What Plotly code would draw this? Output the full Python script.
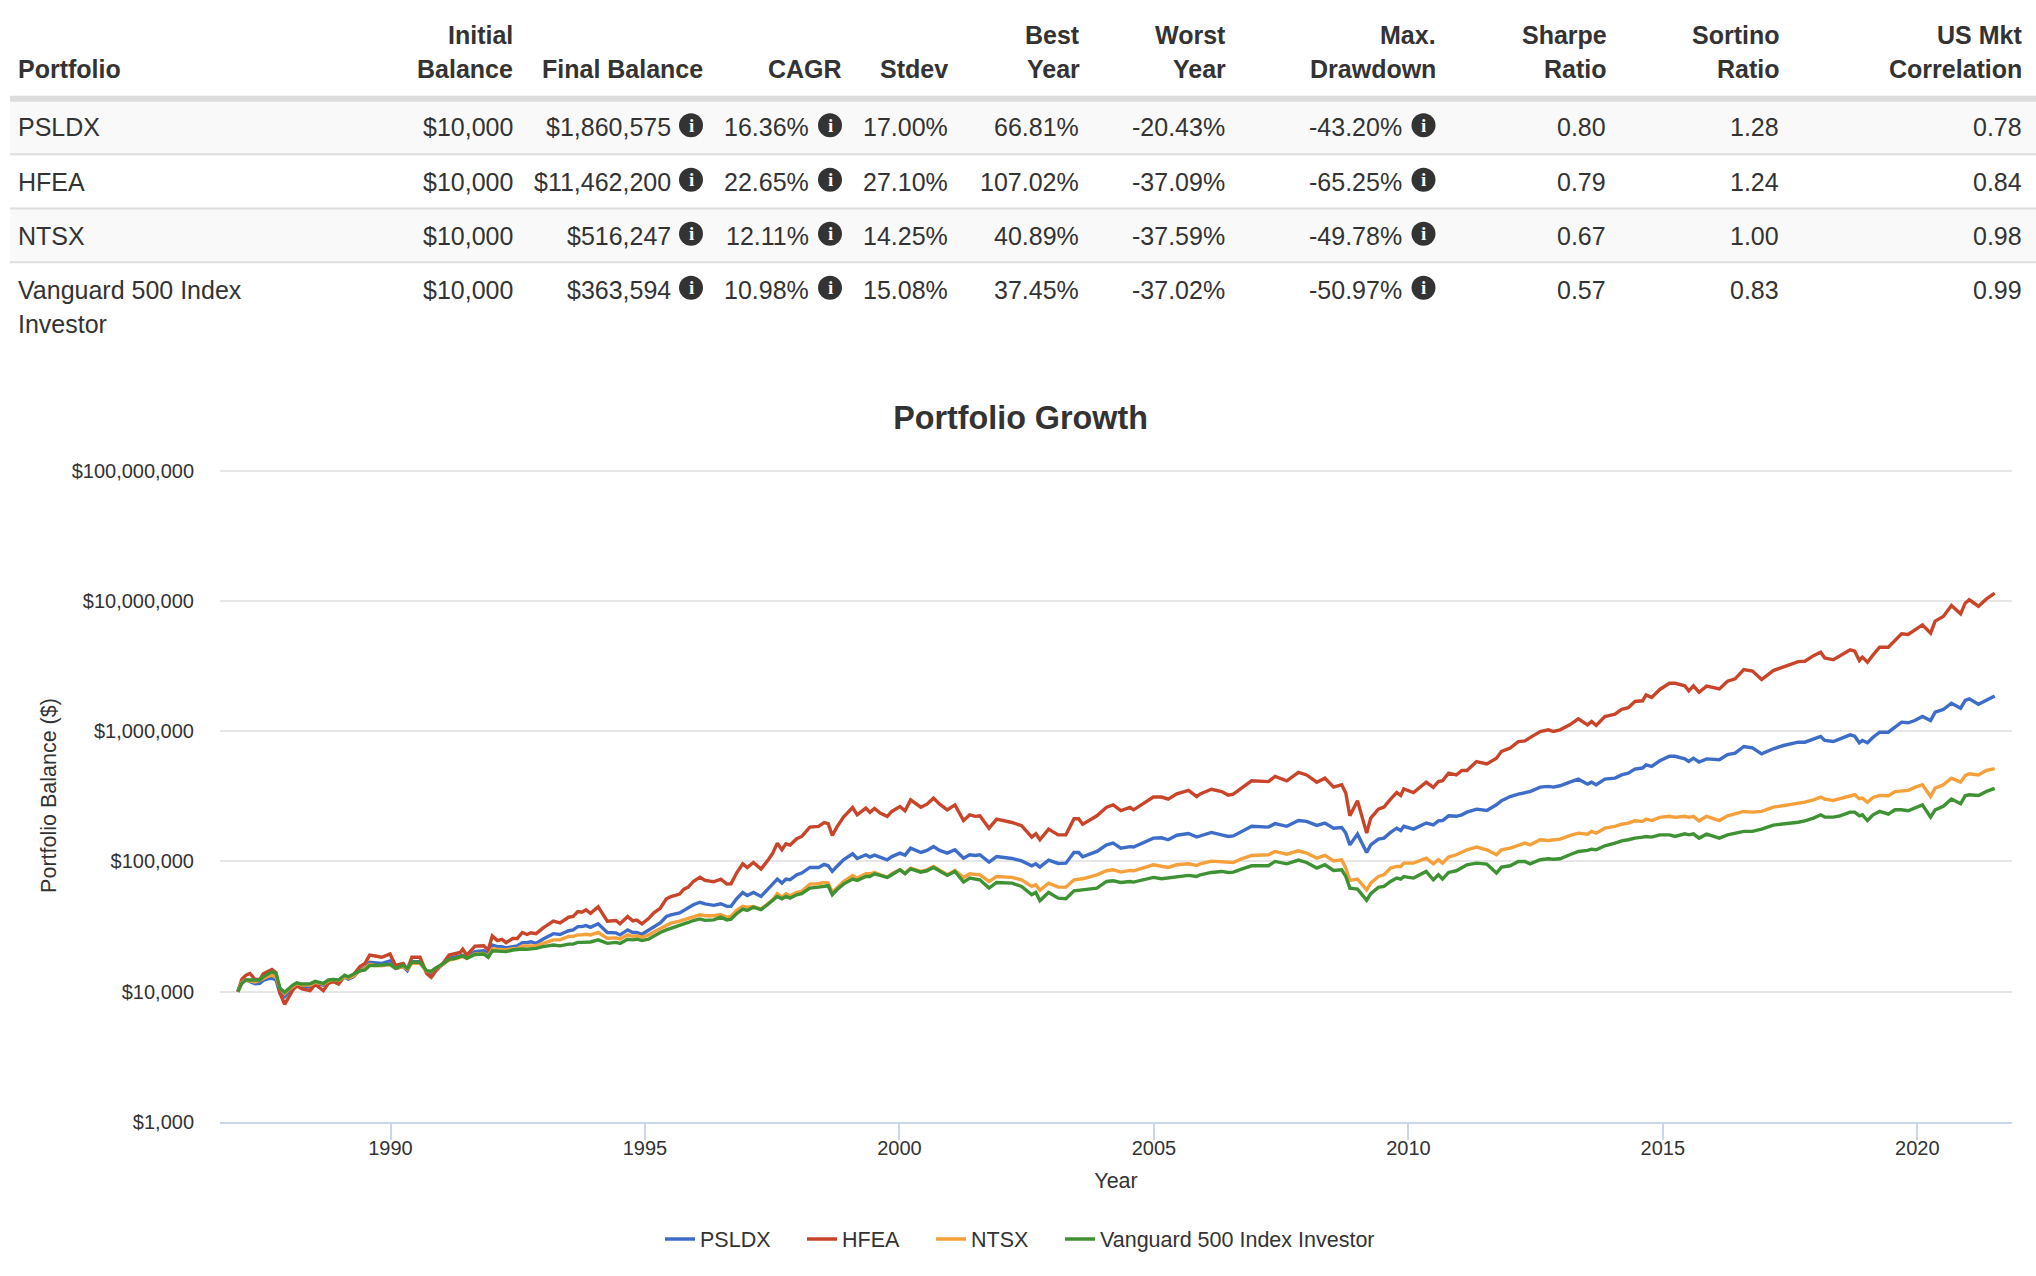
import plotly.graph_objects as go

# ---------- table data ----------
header_line1 = ["", "Initial", "", "", "", "Best", "Worst", "Max.", "Sharpe", "Sortino", "US Mkt"]
header_line2 = ["Portfolio", "Balance", "Final Balance", "CAGR", "Stdev", "Year", "Year", "Drawdown", "Ratio", "Ratio", "Correlation"]
portfolios = ["PSLDX", "HFEA", "NTSX", "Vanguard 500 Index"]
portfolio_line2 = ["", "", "", "Investor"]
initial_balance = ["$10,000", "$10,000", "$10,000", "$10,000"]
final_balance = ["$1,860,575", "$11,462,200", "$516,247", "$363,594"]
cagr = ["16.36%", "22.65%", "12.11%", "10.98%"]
stdev = ["17.00%", "27.10%", "14.25%", "15.08%"]
best_year = ["66.81%", "107.02%", "40.89%", "37.45%"]
worst_year = ["-20.43%", "-37.09%", "-37.59%", "-37.02%"]
max_drawdown = ["-43.20%", "-65.25%", "-49.78%", "-50.97%"]
sharpe = ["0.80", "0.79", "0.67", "0.57"]
sortino = ["1.28", "1.24", "1.00", "0.83"]
us_corr = ["0.78", "0.84", "0.98", "0.99"]

# ---------- chart data (balance in $ thousands) ----------
years = [
 1987.00,1987.08,1987.16,1987.24,1987.34,1987.43,1987.50,1987.60,1987.67,1987.75,1987.83,1987.92,
 1988.00,1988.08,1988.16,1988.26,1988.42,1988.52,1988.68,1988.78,1988.88,1988.98,
 1989.10,1989.17,1989.27,1989.40,1989.50,1989.59,1989.70,1989.83,
 1989.99,1990.10,1990.25,1990.33,1990.42,1990.58,1990.71,1990.80,1990.88,
 1991.04,1991.15,1991.27,1991.37,1991.42,1991.50,1991.66,1991.83,1991.92,
 1992.00,1992.10,1992.19,1992.27,1992.40,1992.49,1992.59,1992.68,1992.76,1992.86,
 1993.00,1993.20,1993.33,1993.50,1993.59,1993.68,1993.76,1993.84,1993.93,
 1994.08,1994.26,1994.43,1994.51,1994.66,1994.76,1994.84,1994.94,
 1995.07,1995.18,1995.30,1995.42,1995.51,1995.68,1995.76,1995.85,1995.95,
 1996.08,
 1996.18,1996.35,1996.49,1996.61,1996.69,1996.80,1996.92,
 1997.01,1997.13,1997.28,1997.43,1997.51,1997.60,1997.69,1997.77,1997.85,1997.98,
 1998.08,1998.24,1998.41,1998.52,1998.60,1998.68,1998.77,1998.90,
 1999.08,1999.17,1999.34,1999.42,1999.51,1999.62,1999.76,1999.85,
 2000.01,2000.11,2000.22,2000.42,2000.54,2000.67,2000.79,2000.94,
 2001.09,2001.26,2001.38,2001.49,2001.58,2001.76,2001.91,
 2002.21,2002.40,2002.60,2002.68,2002.76,2002.93,
 2003.12,2003.27,2003.43,2003.52,2003.60,2003.88,
 2004.07,2004.20,2004.35,2004.53,2004.60,2004.99,
 2005.15,2005.28,2005.45,2005.68,2005.84,
 2005.91,
 2006.13,2006.33,2006.46,2006.56,2006.72,2006.92,
 2007.25,2007.38,2007.61,2007.84,
 2008.00,2008.20,2008.36,2008.53,2008.69,2008.77,2008.85,
 2009.00,2009.18,2009.26,2009.41,2009.52,2009.65,2009.77,2009.85,2009.91,
 2010.10,2010.35,2010.49,2010.59,2010.67,2010.79,2010.94,
 2011.05,2011.15,2011.34,2011.54,2011.73,2011.83,
 2012.00,2012.16,2012.29,2012.39,2012.59,2012.75,2012.85,2012.98,
 2013.17,2013.34,2013.52,2013.60,2013.69,2013.86,
 2014.06,2014.19,2014.32,2014.45,2014.60,2014.67,2014.78,2014.94,
 2015.13,2015.24,2015.43,2015.51,2015.60,2015.71,
 2015.86,
 2016.11,2016.27,2016.42,2016.59,2016.76,2016.94,
 2017.17,2017.37,2017.66,2017.79,2017.96,
 2018.10,2018.18,2018.35,2018.48,2018.68,2018.77,2018.86,2018.92,
 2019.02,2019.13,2019.26,2019.43,2019.56,2019.69,2019.82,2019.95,
 2020.10,2020.26,2020.35,2020.51,2020.67,2020.85,2020.94,
 2021.02,2021.20,2021.36,2021.52,
]

hfea = [
 10.0,12.5,13.4,13.8,12.4,12.4,13.7,14.4,14.8,14.0,9.7,8.0,
 9.15,10.3,11.1,10.5,10.2,11.4,10.2,11.6,12.0,11.45,
 13.2,12.9,13.4,15.6,16.5,19.1,18.8,18.4,
 19.5,15.9,16.5,14.7,18.4,18.4,13.8,12.9,14.25,
 16.7,19.1,19.7,20.0,21.2,19.1,22.4,22.5,20.9,
 26.8,24.7,25.2,23.8,25.6,25.6,28.5,27.5,28.3,27.9,
 30.9,34.8,33.7,37.3,37.8,41.2,40.8,42.5,40.0,
 44.8,34.8,35.2,33.2,37.8,35.0,35.5,33.2,
 36.4,40.5,43.7,51.7,53.7,56.2,61.0,63.5,70.2,
 75.7,
 71.5,69.8,73.2,67.0,67.4,81.4,95.9,
 89.9,98.2,87.3,104,115.9,138.3,122.9,136.6,133.4,149.3,
 155.5,183.5,185.7,199,195,158,183.5,218.8,
 259.5,228,257,238,255,235,221.7,242,
 264,245,297,261,275,306,275,249,
 272,206,228,222,224,180,211,
 199,188,153.7,163,146.7,177,
 160,160,212.6,212.6,193,224,
 261,272,246,259.5,249,312,
 312,301,330,351,315,
 330,
 358,344,323,329,365,416,
 410,450,416,483,
 461,406,436,372,388,335,224,
 292,165,215,252,261,301,338,321,361,
 338,406,370,411,416,476,461,
 499,499,585,561,620,700,
 741,832,842,892,994,1024,994,1024,
 1118,1243,1118,1187,1108,1296,
 1350,1470,1515,1689,1710,1900,1815,2090,
 2330,2330,2230,2040,2230,1990,
 2217,
 2110,2420,2520,2970,2890,2490,
 2920,3100,3420,3440,3800,
 4040,3650,3530,3760,4210,4110,3490,3700,
 3380,3850,4410,4410,4970,5580,5520,5930,
 6540,5650,6990,7590,9210,7950,9600,
 10200,9100,10350,11462.2,
]

psldx = [
 10.0,11.8,12.3,11.9,11.5,11.6,12.2,12.6,12.7,12.3,9.7,9.15,
 10.0,10.6,11.25,10.9,10.85,11.6,11.25,12.1,12.3,12.1,
 12.9,12.5,13.0,14.7,15.3,16.8,16.7,16.5,
 17.2,15.1,15.6,14.5,17.0,17.0,14.25,13.8,14.7,
 16.3,18.05,18.6,18.8,19.0,18.4,20.3,20.6,19.7,
 22.85,22.2,22.2,21.7,22.2,22.5,23.8,23.8,24.2,23.5,
 25.4,27.9,27.5,29.4,29.8,31.6,31.6,32.2,31.2,
 33.2,28.5,28.3,27.3,29.8,28.5,28.5,27.6,
 29.8,31.6,33.7,37.8,38.9,40.2,42.1,43.8,46.5,
 48.6,
 47.3,46.0,47.3,45.2,45.2,51.7,57.8,
 54.8,57.8,53.9,62.4,66.2,73.2,68.2,73.2,72.3,79.0,
 81.4,89.9,89.9,94.8,92.6,83.8,91.5,103,
 114.5,105.4,112.5,108,111.8,108,103,109,
 115.9,111.8,126.6,117.2,121.5,130,121.5,115.9,
 122.9,106,112.5,111.2,112.5,98.8,109,
 105.4,101,92.6,95.9,90.5,102.4,
 96.5,97,117.2,117.2,108.6,119.3,
 134,138.3,126.6,130,129,151,
 152,146.7,159,164,154,
 157,
 167,160,155.5,157,170,186,
 183.5,195,186,206,
 203,189,197,180,182,165,134,
 162,117.2,134,148.5,151,167,180,173,186,
 177,197,191,205,206,224,222,
 228,239,252,246,272,293,
 315,329,335,344,372,377,372,381,
 406,428,392,406,388,428,
 436,461,476,511,521,551,537,592,
 641,641,614,585,620,580,
 613,
 603,662,678,763,745,670,
 732,776,823,823,873,
 910,848,833,873,937,915,814,848,
 814,899,982,982,1073,1172,1159,1207,
 1296,1207,1399,1467,1640,1501,1720,
 1770,1610,1740,1860.6,
]

ntsx = [
 10.0,11.8,12.3,12.2,11.9,12.2,12.6,13.2,13.4,12.9,10.6,9.7,
 10.4,11.0,11.6,11.25,11.25,11.8,11.45,12.1,12.4,12.2,
 13.0,12.75,13.2,14.5,15.1,16.2,15.9,15.8,
 16.2,15.1,15.6,14.9,16.5,16.5,14.4,14.25,15.1,
 16.3,17.5,17.9,18.2,18.6,18.05,19.5,19.7,18.8,
 21.3,21.2,21.2,20.9,21.4,21.5,22.5,22.5,22.5,22.5,
 23.5,25.0,25.0,26.6,26.6,27.3,27.3,27.6,27.3,
 28.5,25.7,25.9,25.4,27.3,26.6,26.9,26.1,
 27.3,28.9,30.7,32.6,33.6,34.8,35.6,36.2,37.8,
 38.9,
 38.3,38.3,39.0,37.4,37.8,42.1,45.2,
 44.6,45.2,43.1,47.9,50.8,56.5,53.2,56.5,54.5,57.8,
 58.9,67.0,67.4,69.0,68.2,57.8,62.4,70.2,
 78.1,74.5,80.4,80.4,82.3,79.0,75.4,80.4,
 86.3,81.4,88.9,83.8,86.3,91.5,86.3,79.0,
 85.3,75.4,80.4,79.0,79.0,70.2,76.7,
 75.4,72.3,64.3,66.2,60.0,68.2,
 63.5,63.5,72.3,73.2,73.6,79.0,
 84.8,86.3,82.8,85.3,84.8,94.3,
 92.1,89.9,94.3,95.9,93.2,
 95.9,
 100.6,100,98.2,98.2,104.8,111.2,
 112.5,119.3,113.8,120.7,
 115.9,106,111.2,101,103,88.9,71.5,
 73.2,60.6,68.2,76.7,79.0,88.9,91.5,91.5,97,
 97,106,95.9,103,97,108,112.5,
 117.2,122.9,128.8,122.9,112.5,122.9,
 126.6,134,138.3,134,146.7,145,146.7,148.5,
 158,165,162,170,165,180,
 186,193,197,205,203,211,206,218,
 222,218,222,218,222,205,
 222,
 206,224,231,242,239,242,
 261,269,280,285,297,
 312,301,294,303,321,325,303,306,
 285,310,321,319,344,348,351,370,
 388,315,365,388,436,406,456,
 471,461,500,516.2,
]

vanguard = [
 10.0,11.6,12.3,12.3,12.3,12.3,13.0,13.8,14.2,13.8,10.6,9.9,
 10.6,11.25,11.7,11.45,11.5,12.0,11.6,12.3,12.4,12.3,
 13.4,13.0,13.6,14.5,14.7,15.9,15.9,16.0,
 16.2,15.1,16.0,15.1,16.9,16.8,14.5,14.3,15.1,
 16.5,17.7,18.05,18.6,18.9,18.05,19.3,19.5,18.4,
 20.6,20.6,20.5,20.3,20.9,21.2,21.3,21.2,21.3,21.5,
 22.2,22.85,22.5,23.2,23.2,23.9,23.9,24.1,24.1,
 25.0,23.5,23.9,23.5,25.3,25.0,25.3,24.7,
 25.3,27.0,28.5,29.8,30.6,32.0,32.6,34.0,35.2,
 36.2,
 35.3,35.6,37.4,35.6,36.1,39.7,43.1,
 42.1,44.6,42.6,47.3,50.2,53.9,51.7,53.9,52.3,55.5,
 56.5,62.4,63.5,64.3,65.1,55.5,60.6,67.0,
 73.2,71.5,76.7,76.7,80.4,78.1,75.4,79.0,
 86.3,80.4,87.8,82.8,84.8,89.9,84.8,78.1,
 83.8,69.4,74.5,73.2,72.3,62.4,69.0,
 68.2,64.3,55.5,57.8,49.9,57.8,
 52.3,51.7,59.5,59.9,60.6,62.4,
 70.2,71.1,69.0,70.2,69.4,75.4,
 73.6,74.5,75.8,78.1,76.7,
 79.0,
 82.3,83.8,82.3,82.8,87.3,92.6,
 92.6,100,95.9,102.4,
 98.2,88.9,94.3,85.3,86.3,76.7,62.4,
 61.3,50.2,56.5,63.2,64.3,70.2,74.5,73.2,76.7,
 74.5,83.8,72.3,79.0,73.2,82.3,84.8,
 90.5,94.3,97,95.4,81.4,90.5,
 92.6,100,100,95.9,103,104.8,104,104.8,
 112.5,119.3,121.5,124.3,122.9,131.9,
 138.3,144,146.7,151,153.7,155.5,153.7,160,
 160,155.5,163,160,163,151,
 162,
 151,160,165,170,170,177,
 190,193,200,205,215,
 228,219,219,224,239,239,224,228,
 206,228,242,231,249,249,245,257,
 272,219,249,265,301,277,319,
 325,321,345,363.6,
]

series_names = ["PSLDX", "HFEA", "NTSX", "Vanguard 500 Index Investor"]
series_values = [psldx, hfea, ntsx, vanguard]
series_colors = ["#3e6dc9", "#c9452a", "#f5a03a", "#3f9233"]
y_tick_values = [1000, 10000, 100000, 1000000, 10000000, 100000000]
y_tick_labels = ["$1,000", "$10,000", "$100,000", "$1,000,000", "$10,000,000", "$100,000,000"]

for s in series_values:
    assert len(s) == len(years), len(s)

# ---------- layout constants (pixels) ----------
W, H = 2036, 1276
PL, PR, PT, PB = 220.0, 2012.0, 469.1, 1121.7
Y_TOP = 8.0123  # a hair above the top tick so its gridline is drawn
FONT = "Liberation Sans"
INK = "#333333"
TABLE_SIZE = 25


def fx(p):
    return (p - PL) / (PR - PL)


def fy(p):
    return (PB - p) / (PB - PT)


legend_ids = ["legend", "legend2", "legend3", "legend4"]
legend_left = [660, 802, 931, 1060]

fig = go.Figure()
for name, vals, col, lid in zip(series_names, series_values, series_colors, legend_ids):
    fig.add_trace(go.Scatter(x=years, y=[v * 1000 for v in vals], mode="lines", name=name, legend=lid,
                             line=dict(color=col, width=3.4), showlegend=True))

annotations = []
shapes = []


def text(px, py, s, anchor="right", bold=False, size=TABLE_SIZE, color=INK, family=FONT):
    if s == "":
        return
    annotations.append(dict(xref="paper", yref="paper", x=fx(px), y=fy(py), text=f"<b>{s}</b>" if bold else s,
                            showarrow=False, xanchor=anchor, yanchor="middle", align=anchor,
                            font=dict(family=family, size=size, color=color),
                            borderpad=0, borderwidth=0))


def rect(x0, y0, x1, y1, color):
    shapes.append(dict(type="rect", xref="paper", yref="paper", x0=fx(x0), x1=fx(x1), y0=fy(y0), y1=fy(y1),
                       fillcolor=color, line=dict(width=0), layer="below"))


def icon(cx, cy):
    r = 12
    shapes.append(dict(type="circle", xref="paper", yref="paper", x0=fx(cx - r), x1=fx(cx + r),
                       y0=fy(cy + r), y1=fy(cy - r), fillcolor=INK, line=dict(width=0), layer="above"))
    text(cx, cy, "i", anchor="center", bold=True, size=19, color="#ffffff", family="Liberation Serif")


# table rules and stripes
TL = 10
rect(TL, 102, W, 153.5, "#f9f9f9")
rect(TL, 209.5, W, 261.5, "#f9f9f9")
rect(TL, 96, W, 102, "#dddddd")
rect(TL, 153.5, W, 155.5, "#dddddd")
rect(TL, 207.7, W, 209.7, "#dddddd")
rect(TL, 261.5, W, 263.5, "#dddddd")

header_right = [None, 513, 703, 841.5, 948, 1080, 1226, 1436, 1606.5, 1779.5, 2022]
for i, (a, b) in enumerate(zip(header_line1, header_line2)):
    if i == 0:
        text(18, 69.5, b, anchor="left", bold=True)
    else:
        text(header_right[i], 35, a, bold=True)
        text(header_right[i], 69.5, b, bold=True)

row_y = [127.5, 182, 236, 290]
columns = [(initial_balance, 513), (final_balance, 670.5), (cagr, 808.5), (stdev, 947.5), (best_year, 1079),
           (worst_year, 1225), (max_drawdown, 1401.5), (sharpe, 1606), (sortino, 1779), (us_corr, 2022)]
for r, y in enumerate(row_y):
    text(18, y, portfolios[r], anchor="left")
    text(18, y + 34, portfolio_line2[r], anchor="left")
    for col, right in columns:
        text(right, y, col[r])
    for cx in (691, 830, 1423.5):
        icon(cx, y - 2)

layout_legends = {}
for lid, left in zip(legend_ids, legend_left):
    layout_legends[lid] = dict(orientation="h", xref="paper", x=fx(left), xanchor="left", yref="container",
                               y=1 - 1239 / H, yanchor="middle", font=dict(size=21.5, color=INK), itemwidth=30,
                               bgcolor="rgba(0,0,0,0)")

fig.update_layout(
    width=W, height=H, margin=dict(l=PL, r=W - PR, t=PT, b=H - PB, autoexpand=False),
    paper_bgcolor="#ffffff", plot_bgcolor="#ffffff",
    font=dict(family=FONT, color=INK, size=20),
    title=dict(text="<b>Portfolio Growth</b>", xref="paper", x=fx(1020.5), xanchor="center",
               yref="container", y=1 - 418 / H, yanchor="middle", font=dict(size=32.3, color=INK, family=FONT)),
    xaxis=dict(range=[1986.65, 2021.86], tick0=1990, dtick=5, tickformat="d", showgrid=False, zeroline=False,
               showline=True, linecolor="#ccd6eb", linewidth=1.5, ticks="outside", ticklen=16, tickwidth=1.5,
               tickcolor="#ccd6eb", tickfont=dict(size=20, color=INK), ticklabelstandoff=-9,
               title=dict(text="Year", font=dict(size=21.5, color=INK), standoff=15)),
    yaxis=dict(type="log", range=[3, Y_TOP], tickvals=y_tick_values, ticktext=y_tick_labels, showgrid=True,
               gridcolor="#e6e6e6", gridwidth=1.5, zeroline=False, showline=False, ticks="", ticklabelstandoff=25,
               tickfont=dict(size=20, color=INK),
               title=dict(text="Portfolio Balance ($)", font=dict(size=21.5, color=INK), standoff=9)),
    annotations=annotations, shapes=shapes, hovermode="x unified",
    **layout_legends,
)

fig.write_html("out.html", config={"displayModeBar": False}, post_script="document.body.style.margin='0';")
